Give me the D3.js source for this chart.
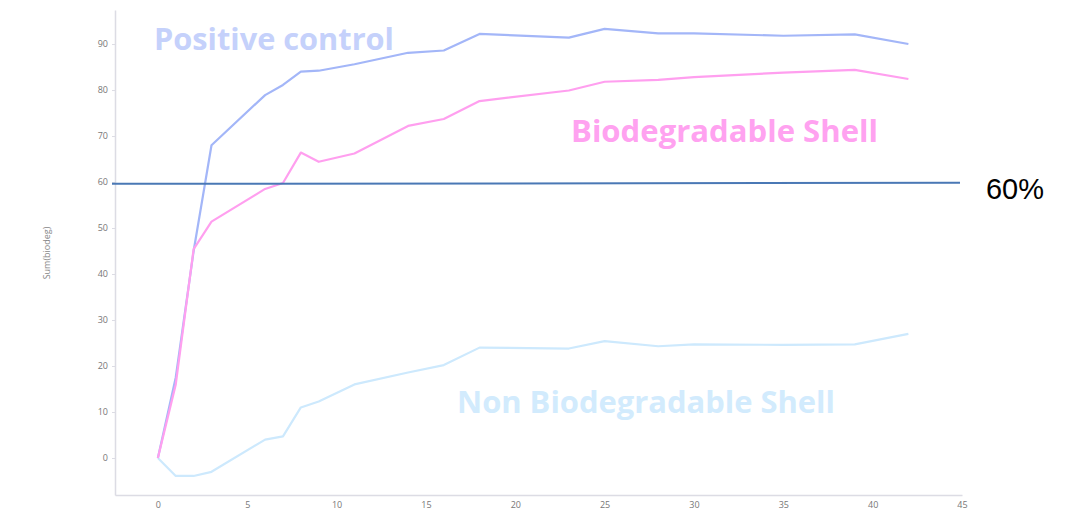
<!DOCTYPE html>
<html>
<head>
<meta charset="utf-8">
<script src="https://cdn.jsdelivr.net/npm/d3@7"></script>
<style>
  body { margin: 0; background: #fff; }
  svg { display: block; }
  .axis text { font-family: "Open Sans", sans-serif; font-size: 9px; fill: #777; }
  .axis path, .axis line { stroke: #dcdce4; }
</style>
</head>
<body>
<svg id="chart" width="1082" height="515"></svg>
<script>
// days of measurement
const days = [0, 1, 2, 3, 6, 7, 8, 9, 11, 14, 16, 18, 23, 25, 28, 30, 35, 39, 42]

// biodegradation (%) per series
const positiveControl = [0, 17.5, 45, 68, 78.9, 81.1, 84, 84.2, 85.6, 88.1, 88.6, 92.2, 91.4, 93.3, 92.3, 92.3, 91.8, 92.1, 90.0]
const biodegradableShell = [0, 16, 45.4, 51.4, 58.5, 59.8, 66.4, 64.4, 66.2, 72.2, 73.7, 77.6, 79.9, 81.8, 82.2, 82.8, 83.8, 84.4, 82.4]
const nonBiodegradableShell = [0, -3.9, -3.9, -3.0, 4.0, 4.7, 11, 12.3, 16, 18.6, 20.2, 24, 23.8, 25.4, 24.3, 24.7, 24.6, 24.7, 27]

const xTicks = [0, 5, 10, 15, 20, 25, 30, 35, 40, 45]
const yTicks = [0, 10, 20, 30, 40, 50, 60, 70, 80, 90]
const threshold = 59.6

let svg = d3.select("#chart")

let x = d3.scaleLinear()
  .domain([-2.4, 45])
  .range([115, 962])

let y = d3.scaleLinear()
  .domain([-8.04, 97.4])
  .range([495, 10])

// axes
svg.append("g")
  .attr("class", "axis")
  .attr("transform", "translate(0,495)")
  .call(d3.axisBottom(x).tickValues(xTicks).tickSize(0).tickPadding(7))
  .call(g => g.select(".domain").attr("stroke-width", 1.5))

svg.append("g")
  .attr("class", "axis")
  .attr("transform", "translate(115,0)")
  .call(d3.axisLeft(y).tickValues(yTicks).tickSize(3).tickSizeOuter(0).tickPadding(4))
  .call(g => g.select(".domain").attr("stroke-width", 1.5))

svg.append("text")
  .attr("transform", "translate(50,253) rotate(-90)")
  .attr("text-anchor", "middle")
  .style("font-family", "'Open Sans', sans-serif")
  .style("font-size", "9px")
  .style("fill", "#888")
  .text("Sum(biodeg)")

let series = [
  { name: "non", values: nonBiodegradableShell, color: "#cde9fd" },
  { name: "pos", values: positiveControl, color: "#a3b6f8" },
  { name: "bio", values: biodegradableShell, color: "#ff9fef" }
]

let line = d3.line()
  .x((d, i) => x(days[i]))
  .y(d => y(d))

svg.selectAll("path.series").data(series)
  .enter().append("path")
    .attr("class", "series")
    .attr("d", d => line(d.values))
    .attr("fill", "none")
    .attr("stroke", d => d.color)
    .attr("stroke-width", 2.2)
    .attr("stroke-linejoin", "round")

// 60% line
svg.append("line")
  .attr("x1", 112)
  .attr("x2", 960)
  .attr("y1", y(threshold))
  .attr("y2", y(threshold) - 1)
  .attr("stroke", "#4a78b5")
  .attr("stroke-width", 2)

svg.append("text")
  .attr("x", 986)
  .attr("y", 199)
  .attr("textLength", 58)
  .attr("lengthAdjust", "spacingAndGlyphs")
  .style("font-family", "'Liberation Sans', sans-serif")
  .style("font-size", "30px")
  .style("fill", "#000")
  .text("60%")

// series labels
let labels = [
  { text: "Positive control", x: 154, y: 50, w: 240, color: "#c5d1fb" },
  { text: "Biodegradable Shell", x: 571, y: 142, w: 307, color: "#ffa2f0" },
  { text: "Non Biodegradable Shell", x: 457, y: 413, w: 378, color: "#d2ebfd" }
]

svg.selectAll("text.label").data(labels)
  .enter().append("text")
    .attr("class", "label")
    .attr("x", d => d.x)
    .attr("y", d => d.y)
    .attr("textLength", d => d.w)
    .attr("lengthAdjust", "spacingAndGlyphs")
    .style("font-family", "'Open Sans', sans-serif")
    .style("font-weight", "bold")
    .style("font-size", "31px")
    .style("fill", d => d.color)
    .text(d => d.text)
</script>
</body>
</html>
